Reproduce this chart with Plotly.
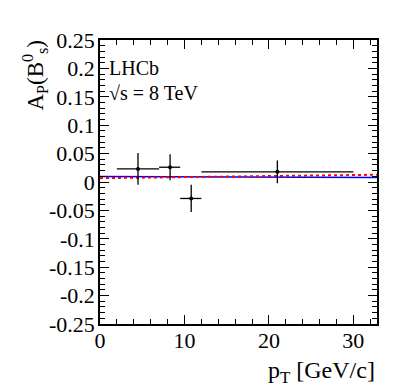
import plotly.graph_objects as go

# measured points (pT in GeV/c, asymmetry)
pt = [4.5, 8.3, 10.8, 21.0]
pt_lo = [2.0, 7.0, 9.5, 12.0]
pt_hi = [7.0, 9.5, 12.0, 30.0]
ap = [0.023, 0.026, -0.029, 0.018]
ap_err = [0.028, 0.023, 0.024, 0.020]

# fit lines
line_x = [0, 33]
blue_y = [0.0097, 0.0077]
red_y = [0.0068, 0.0128]

y_ticks = [0.25, 0.2, 0.15, 0.1, 0.05, 0, -0.05, -0.1, -0.15, -0.2, -0.25]
y_labels = ['0.25', '0.2', '0.15', '0.1', '0.05', '0', '-0.05', '-0.1', '-0.15', '-0.2', '-0.25']

FONT = 'Liberation Serif'


def main():
    traces = [
        go.Scatter(x=line_x, y=blue_y, mode='lines',
                   line=dict(color='blue', width=1.5)),
        go.Scatter(x=line_x, y=red_y, mode='lines',
                   line=dict(color='red', width=2, dash='dot')),
        go.Scatter(
            x=pt, y=ap, mode='markers',
            marker=dict(color='black', size=4),
            error_x=dict(type='data', symmetric=False,
                         array=[h - c for h, c in zip(pt_hi, pt)],
                         arrayminus=[c - l for c, l in zip(pt, pt_lo)],
                         color='black', thickness=1.3, width=0),
            error_y=dict(type='data', array=ap_err, color='black',
                         thickness=1.3, width=0),
        ),
    ]

    axis_common = dict(
        showgrid=False, zeroline=False, showline=True, linecolor='black',
        linewidth=1.5, mirror='allticks', ticks='inside', tickcolor='black',
        tickwidth=1, tickfont=dict(family=FONT, size=22, color='black'),
    )

    # the page body has an 8px margin, so the figure is sized and offset for it
    fig = go.Figure(
        data=traces,
        layout=go.Layout(
            width=391, height=380,
            showlegend=False,
            font=dict(family=FONT),
            paper_bgcolor='white', plot_bgcolor='white',
            margin=dict(l=92, r=22, t=32, b=64),
            xaxis=dict(
                range=[0, 32.8], tickvals=[0, 10, 20, 30], ticklen=9,
                ticklabelstandoff=-4,
                minor=dict(ticks='inside', dtick=2, ticklen=5, tickcolor='black'),
                **axis_common,
            ),
            yaxis=dict(
                range=[-0.25, 0.25], tickvals=y_ticks, ticktext=y_labels,
                ticklen=9, ticklabelstandoff=-1,
                minor=dict(ticks='inside', dtick=0.01, ticklen=5, tickcolor='black'),
                **axis_common,
            ),
            annotations=[
                dict(text='A<sub>P</sub>(B<sup>0</sup><sub>s</sub>)', textangle=-90,
                     xref='paper', yref='paper', x=-0.235, y=1.01,
                     xanchor='center', yanchor='top', showarrow=False,
                     font=dict(family=FONT, size=23, color='black')),
                dict(text='p<sub>T</sub> [GeV/c]',
                     xref='paper', yref='paper', x=1.0, y=-0.11,
                     xanchor='right', yanchor='top', showarrow=False,
                     font=dict(family=FONT, size=24, color='black')),
                dict(text='LHCb', xref='paper', yref='paper', x=0.025, y=0.9,
                     xanchor='left', yanchor='middle', showarrow=False,
                     font=dict(family=FONT, size=20, color='black')),
                dict(text='√s = 8 TeV', xref='paper', yref='paper', x=0.025, y=0.815,
                     xanchor='left', yanchor='middle', showarrow=False,
                     font=dict(family=FONT, size=20, color='black')),
            ],
        ))

    fig.write_html('out.html')


if __name__ == '__main__':
    main()
